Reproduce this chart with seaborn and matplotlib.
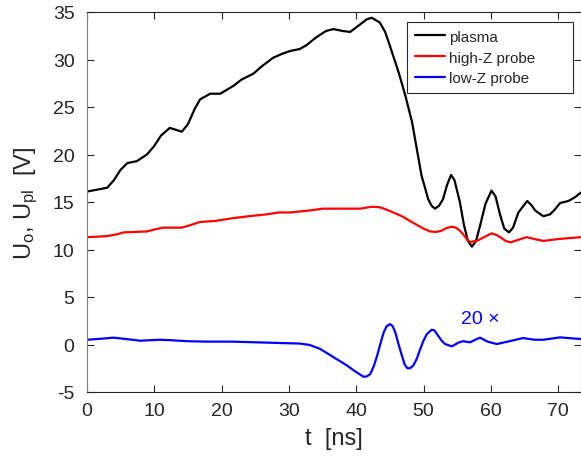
import matplotlib
matplotlib.use("Agg")
import matplotlib.pyplot as plt
import seaborn as sns
import pandas as pd

# ---- data ----
t_plasma = [0, 1.5, 3, 4, 5, 6, 7.4, 8.9, 10, 11, 12.3, 13.2, 14.1, 15, 16, 16.8,
            18.3, 19.8, 21.7, 23, 24.7, 26, 27.7, 29, 30.2, 31.6, 32.6, 34, 35.5,
            36.6, 38, 39.1, 40.6, 41.5, 42.3, 43.5, 44.3, 45.0, 46.3, 47.3, 48.3,
            49.0, 49.7, 50.7, 51.2, 51.7, 52.3, 52.9, 53.5, 54.1, 54.6, 55.4, 56.0,
            56.6, 57.2, 57.8, 58.4, 59.2, 60.1, 60.7, 61.4, 62.0, 62.7, 63.3, 64.1,
            65.4, 66.0, 66.6, 67.8, 68.8, 69.5, 70.3, 71.5, 72.5, 73.4]
u_plasma = [16.1, 16.3, 16.5, 17.3, 18.4, 19.1, 19.3, 20.0, 20.9, 22.0, 22.8, 22.6,
            22.4, 23.2, 24.8, 25.8, 26.4, 26.4, 27.2, 27.9, 28.5, 29.3, 30.2, 30.6,
            30.9, 31.1, 31.5, 32.3, 33.0, 33.2, 33.0, 32.9, 33.7, 34.2, 34.4, 33.9,
            32.9, 31.45, 28.65, 26.2, 23.4, 20.6, 17.8, 15.3, 14.6, 14.3, 14.6, 15.3,
            16.8, 17.85, 17.3, 15.0, 12.6, 10.9, 10.3, 10.9, 12.5, 14.8, 16.2, 15.6,
            13.6, 12.2, 11.8, 12.3, 13.9, 15.1, 14.7, 14.1, 13.5, 13.7, 14.2, 14.9,
            15.1, 15.5, 16.0]

t_high = [0, 2.9, 4.5, 5.4, 8.9, 10, 11.3, 14.1, 15.5, 16.8, 19, 21.7, 24, 26.7,
          28.5, 30.2, 31.6, 33, 35.1, 39.1, 40.6, 42.3, 43.5, 44.5, 45.5, 46.8, 48.0,
          49.0, 50.0, 51.0, 51.8, 52.6, 53.4, 54.2, 54.8, 55.4, 56.0, 56.4, 56.9,
          57.9, 59.0, 60.1, 60.8, 61.4, 62.2, 62.9, 64.0, 65.3, 66.5, 67.8, 70.0, 73.4]
u_high = [11.3, 11.4, 11.6, 11.8, 11.9, 12.1, 12.3, 12.3, 12.6, 12.9, 13.0, 13.3,
          13.5, 13.7, 13.9, 13.9, 14.0, 14.1, 14.3, 14.3, 14.3, 14.5, 14.45, 14.2,
          13.9, 13.5, 13.0, 12.6, 12.2, 11.9, 11.85, 11.95, 12.25, 12.4, 12.3, 12.0,
          11.5, 11.1, 10.8, 10.9, 11.3, 11.7, 11.55, 11.3, 10.9, 10.75, 11.0, 11.3,
          11.1, 10.9, 11.1, 11.3]

t_low = [0, 2, 3.9, 5.5, 7.9, 10.8, 12.5, 14.8, 18, 21.7, 24, 26.7, 29, 31.6, 33.1,
         34.6, 36.1, 38.6, 40.0, 41.1, 41.6, 42.1, 42.6, 43.1, 43.6, 44.1, 44.5, 45.0,
         45.4, 45.8, 46.3, 46.8, 47.2, 47.6, 48.0, 48.5, 49.0, 49.5, 50.0, 50.5, 51.2,
         51.6, 52.2, 52.7, 53.2, 54.2, 55.2, 55.9, 56.9, 57.7, 58.4, 59.0, 59.5, 60.9,
         62.5, 64.8, 66.5, 67.8, 70.3, 72, 73.4]
u_low = [0.5, 0.6, 0.72, 0.6, 0.4, 0.5, 0.45, 0.35, 0.3, 0.3, 0.25, 0.2, 0.15, 0.1,
         -0.05, -0.45, -1.1, -2.2, -2.9, -3.4, -3.35, -3.1, -2.3, -1.2, 0.1, 1.3, 1.9,
         2.15, 1.95, 1.3, 0.0, -1.2, -2.1, -2.5, -2.5, -2.2, -1.5, -0.5, 0.4, 1.1,
         1.55, 1.5, 0.9, 0.4, 0.05, -0.2, 0.2, 0.35, 0.23, 0.5, 0.72, 0.5, 0.3, 0.05,
         0.3, 0.68, 0.5, 0.5, 0.75, 0.65, 0.58]

labels = ["plasma", "high-Z probe", "low-Z probe"]
colors = ["#000000", "#ff0000", "#0000ff"]
x_ticks = [0, 10, 20, 30, 40, 50, 60, 70]
y_ticks = [-5, 0, 5, 10, 15, 20, 25, 30, 35]

sns.set_style("ticks")
plt.rcParams["font.family"] = ["Liberation Sans", "DejaVu Sans"]
plt.rcParams["mathtext.fontset"] = "custom"
plt.rcParams["mathtext.rm"] = "Liberation Sans"
plt.rcParams["mathtext.it"] = "Liberation Sans:italic"
plt.rcParams["axes.unicode_minus"] = False

fig = plt.figure(figsize=(5.81, 4.64), dpi=100)
ax = fig.add_axes([87 / 581, 1 - 393 / 464, (581 - 87) / 581, (393 - 13) / 464])

series = [(t_plasma, u_plasma), (t_high, u_high), (t_low, u_low)]
for (tt, uu), lab, col in zip(series, labels, colors):
    df = pd.DataFrame({"t": tt, "u": uu})
    sns.lineplot(data=df, x="t", y="u", color=col, linewidth=1.6, label=lab,
                 ax=ax, sort=False)
for ln in ax.get_lines():
    ln.set_solid_joinstyle("round")

ax.set_xlim(0, 73.4)
ax.set_ylim(-5, 35)
ax.set_xticks(x_ticks)
ax.set_yticks(y_ticks)
ax.tick_params(direction="in", length=5, width=0.8, colors="#262626",
               labelsize=14, top=True, right=True)
ax.tick_params(axis="y", pad=9)
ax.tick_params(axis="x", pad=7)
for s in ax.spines.values():
    s.set_visible(True)
    s.set_color("#262626")
    s.set_linewidth(0.8)
ax.spines["left"].set_color("#7f7f7f")

ax.set_xlabel("t  [ns]", fontsize=17, color="#262626", labelpad=6)
ax.set_ylabel(r"U$_\mathrm{o}$, U$_\mathrm{pl}$  [V]", fontsize=17,
              color="#262626", labelpad=9)

ax.text(58.4, 2.7, "20 ×", color="#0000ff", fontsize=14, ha="center", va="center")

leg = ax.legend(loc="upper left",
                bbox_to_anchor=((407 - 87) / 494, (393 - 23) / 380, (573 - 407) / 494, 0.0),
                mode="expand", fontsize=11, frameon=True, fancybox=False,
                edgecolor="#262626", framealpha=1, borderaxespad=0,
                handlelength=2.0, handletextpad=0.25, labelspacing=0.45,
                borderpad=0.5)
leg.get_frame().set_linewidth(0.8)

fig.savefig("out.png", dpi=100)
